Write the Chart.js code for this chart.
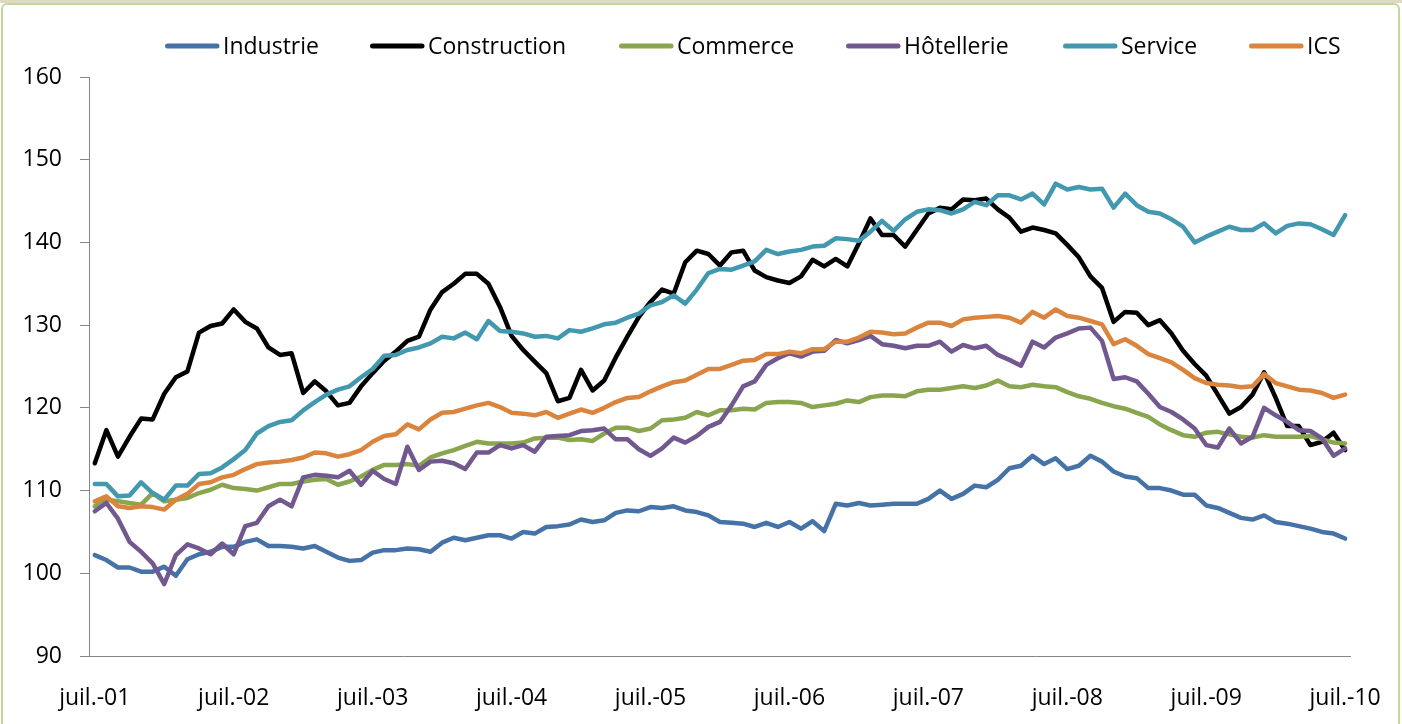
<!DOCTYPE html>
<html><head><meta charset="utf-8">
<script src="https://cdn.jsdelivr.net/npm/chart.js@4.4.1/dist/chart.umd.min.js"></script>
<style>
html,body{margin:0;padding:0;background:#fff;width:1402px;height:724px;overflow:hidden;}
#topstrip{position:absolute;left:0;top:0;width:1402px;height:3px;background:#ddd9c3;}
#frame{position:absolute;left:1px;top:3px;width:1399px;height:740px;border:2px solid #c3d69b;border-radius:6px;box-sizing:border-box;}
#c{position:absolute;left:0;top:0;}
</style></head>
<body>
<div id="topstrip"></div>
<div id="frame"></div>
<canvas id="c" width="1402" height="724"></canvas>
<script>
// ---- Data ----
const MONTHS = ['janv.','févr.','mars','avr.','mai','juin','juil.','août','sept.','oct.','nov.','déc.'];
const START_YEAR = 2001, START_MONTH = 6, N_MONTHS = 109;
const categories = [];
for (let k = 0; k < N_MONTHS; k++) {
  const m = (START_MONTH + k) % 12;
  const y = START_YEAR + Math.floor((START_MONTH + k) / 12);
  categories.push(MONTHS[m] + '-' + String(y % 100).padStart(2, '0'));
}
const seriesNames = ['Industrie','Construction','Commerce','Hôtellerie','Service','ICS'];

const industrie = [
 102.2,101.6,100.7,100.7,100.2,100.2,100.8,99.7,101.7,102.3,102.6,103.2,
 103.2,103.8,104.1,103.3,103.3,103.2,103.0,103.3,102.6,101.9,101.5,101.6,
 102.5,102.8,102.8,103.0,102.9,102.6,103.7,104.3,104.0,104.3,104.6,104.6,
 104.2,105.0,104.8,105.6,105.7,105.9,106.5,106.2,106.4,107.3,107.6,107.5,
 108.0,107.9,108.1,107.6,107.4,107.0,106.2,106.1,106.0,105.6,106.1,105.6,
 106.2,105.4,106.3,105.1,108.4,108.2,108.5,108.2,108.3,108.4,108.4,108.4,
 109.0,110.0,109.0,109.6,110.6,110.4,111.3,112.7,113.0,114.2,113.2,113.9,
 112.6,113.0,114.2,113.5,112.3,111.7,111.5,110.3,110.3,110.0,109.5,109.5,
 108.2,107.9,107.3,106.7,106.5,107.0,106.2,106.0,105.7,105.4,105.0,104.8,
 104.2];
const construction = [
 113.3,117.3,114.1,116.5,118.7,118.6,121.7,123.7,124.4,129.1,129.9,130.2,
 131.9,130.4,129.6,127.3,126.4,126.6,121.8,123.2,122.0,120.3,120.6,122.6,
 124.2,125.7,126.8,128.1,128.6,131.9,134.0,135.0,136.2,136.2,135.0,132.2,
 128.7,127.0,125.6,124.2,120.8,121.2,124.6,122.1,123.3,126.1,128.6,131.0,
 132.8,134.3,133.8,137.6,139.0,138.6,137.2,138.8,139.0,136.6,135.8,135.4,
 135.1,135.9,137.9,137.1,138.0,137.1,139.9,142.9,140.9,140.9,139.5,141.5,
 143.5,144.2,144.0,145.2,145.1,145.3,144.0,143.0,141.3,141.8,141.5,141.1,
 139.7,138.2,135.9,134.5,130.4,131.6,131.5,130.0,130.6,129.0,126.9,125.3,
 123.9,121.6,119.3,120.1,121.6,124.3,121.2,117.8,117.8,115.5,115.9,117.0,
 114.9];
const commerce = [
 108.1,108.9,108.7,108.5,108.3,109.7,108.7,108.9,109.1,109.7,110.1,110.7,
 110.3,110.2,110.0,110.4,110.8,110.8,111.1,111.3,111.4,110.7,111.1,111.7,
 112.5,113.1,113.1,113.2,113.0,114.0,114.5,114.9,115.4,115.9,115.7,115.7,
 115.7,115.8,116.3,116.4,116.4,116.1,116.2,116.0,116.9,117.6,117.6,117.2,
 117.5,118.5,118.6,118.8,119.5,119.1,119.7,119.7,119.9,119.8,120.6,120.7,
 120.7,120.6,120.1,120.3,120.5,120.9,120.7,121.3,121.5,121.5,121.4,122.0,
 122.2,122.2,122.4,122.6,122.4,122.7,123.3,122.6,122.5,122.8,122.6,122.5,
 121.9,121.4,121.1,120.6,120.2,119.9,119.4,118.9,118.0,117.3,116.7,116.5,
 117.0,117.1,116.8,116.5,116.4,116.7,116.5,116.5,116.5,116.6,116.2,115.8,
 115.7];
const hotellerie = [
 107.5,108.5,106.6,103.8,102.6,101.2,98.7,102.2,103.5,103.0,102.3,103.6,
 102.3,105.7,106.1,108.1,108.9,108.1,111.6,111.9,111.8,111.6,112.4,110.7,
 112.4,111.4,110.8,115.3,112.5,113.5,113.6,113.3,112.6,114.6,114.6,115.5,
 115.1,115.5,114.7,116.5,116.6,116.7,117.2,117.3,117.5,116.2,116.2,115.0,
 114.2,115.1,116.4,115.8,116.6,117.7,118.3,120.3,122.6,123.2,125.2,126.0,
 126.6,126.2,126.8,126.9,128.2,127.8,128.2,128.7,127.7,127.5,127.2,127.5,
 127.5,128.0,126.8,127.6,127.2,127.5,126.4,125.8,125.1,128.0,127.3,128.5,
 129.0,129.6,129.7,128.1,123.5,123.7,123.2,121.7,120.1,119.5,118.6,117.5,
 115.5,115.2,117.5,115.7,116.5,120.0,119.1,118.3,117.3,117.2,116.3,114.2,
 115.1];
const service = [
 110.8,110.8,109.3,109.4,111.0,109.7,108.9,110.6,110.6,112.0,112.1,112.8,
 113.8,114.9,116.9,117.8,118.3,118.5,119.7,120.7,121.6,122.2,122.6,123.7,
 124.7,126.3,126.4,127.0,127.3,127.8,128.6,128.4,129.1,128.3,130.5,129.3,
 129.2,129.0,128.6,128.7,128.4,129.4,129.2,129.6,130.1,130.3,130.9,131.4,
 132.4,132.8,133.6,132.6,134.3,136.3,136.8,136.7,137.2,137.7,139.1,138.6,
 138.9,139.1,139.5,139.6,140.5,140.4,140.2,141.3,142.6,141.4,142.8,143.7,
 144.0,143.9,143.5,144.0,144.9,144.5,145.7,145.7,145.2,145.9,144.6,147.1,
 146.4,146.7,146.4,146.5,144.2,145.9,144.5,143.7,143.5,142.8,141.9,140.0,
 140.7,141.3,141.9,141.5,141.5,142.3,141.1,142.0,142.3,142.2,141.6,140.9,
 143.3];
const ics = [
 108.7,109.3,108.1,107.9,108.1,108.0,107.7,108.9,109.6,110.8,111.0,111.6,
 111.9,112.6,113.2,113.4,113.5,113.7,114.0,114.6,114.5,114.1,114.4,114.9,
 115.9,116.6,116.8,118.0,117.4,118.6,119.4,119.5,119.9,120.3,120.6,120.1,
 119.4,119.3,119.1,119.5,118.8,119.3,119.8,119.4,120.0,120.7,121.2,121.3,
 122.0,122.6,123.1,123.3,124.0,124.7,124.7,125.2,125.7,125.8,126.5,126.5,
 126.8,126.6,127.1,127.1,128.0,128.0,128.5,129.2,129.1,128.9,129.0,129.7,
 130.3,130.3,129.9,130.7,130.9,131.0,131.1,130.9,130.3,131.6,130.9,131.9,
 131.1,130.9,130.5,130.1,127.7,128.3,127.5,126.5,126.0,125.5,124.6,123.6,
 123.0,122.8,122.7,122.5,122.6,124.1,123.0,122.6,122.2,122.1,121.8,121.2,
 121.6];
const yTicks = {min: 90, max: 160, step: 10};

// ---- Style ----
const COLORS = ['#4572A7','#000000','#89A54E','#71588F','#4198AF','#DB843D'];
const AXIS = '#868686';
const FONT = '"Open Sans", "Noto Sans", sans-serif';
const LEGEND_X = [165, 370, 619, 846, 1063, 1249];

const allValues = [industrie, construction, commerce, hotellerie, service, ics];

const legendPlugin = {
  id: 'xlLegend',
  afterDraw(chart) {
    const ctx = chart.ctx;
    ctx.save();
    ctx.font = '23px ' + FONT;
    ctx.textBaseline = 'alphabetic';
    chart.data.datasets.forEach((ds, i) => {
      const x0 = LEGEND_X[i];
      ctx.strokeStyle = ds.borderColor;
      ctx.lineWidth = 5;
      ctx.lineCap = 'round';
      ctx.beginPath();
      ctx.moveTo(x0 + 2.5, 46);
      ctx.lineTo(x0 + 52, 46);
      ctx.stroke();
      ctx.fillStyle = '#000';
      ctx.fillText(ds.label, x0 + 58, 54);
    });
    ctx.restore();
  }
};

new Chart(document.getElementById('c'), {
  type: 'line',
  data: {
    labels: categories,
    datasets: seriesNames.map((name, i) => ({
      label: name,
      data: allValues[i],
      borderColor: COLORS[i],
      backgroundColor: COLORS[i],
      order: seriesNames.length - i
    }))
  },
  options: {
    responsive: false,
    animation: false,
    devicePixelRatio: 1,
    events: [],
    layout: {padding: {top: 77, right: 50, bottom: 0, left: 0}},
    elements: {
      point: {radius: 0, hoverRadius: 0},
      line: {borderWidth: 4.5, tension: 0, borderJoinStyle: 'round', borderCapStyle: 'round', fill: false}
    },
    plugins: {legend: {display: false}, tooltip: {enabled: false}},
    scales: {
      x: {
        type: 'category',
        offset: true,
        grid: {
          offset: true, drawOnChartArea: false, drawTicks: true, tickLength: 8, lineWidth: 1,
          color: (c) => (c.index !== undefined && c.index % 12 === 0) ? AXIS : 'rgba(0,0,0,0)'
        },
        border: {display: true, color: AXIS, width: 1},
        ticks: {
          autoSkip: false, maxRotation: 0, minRotation: 0, padding: 21,
          color: '#000', font: {family: FONT, size: 23},
          callback: (v, i) => (i % 12 === 0 ? categories[i] : null)
        },
        afterFit: (s) => { s.height = 68; }
      },
      y: {
        min: yTicks.min, max: yTicks.max,
        ticks: {stepSize: yTicks.step, padding: 18, color: '#000', font: {family: FONT, size: 23}},
        grid: {drawOnChartArea: false, tickLength: 9, color: AXIS, lineWidth: 1},
        border: {display: true, color: AXIS, width: 1},
        afterFit: (s) => { s.width = 89; }
      }
    }
  },
  plugins: [legendPlugin]
});
</script>
</body></html>
